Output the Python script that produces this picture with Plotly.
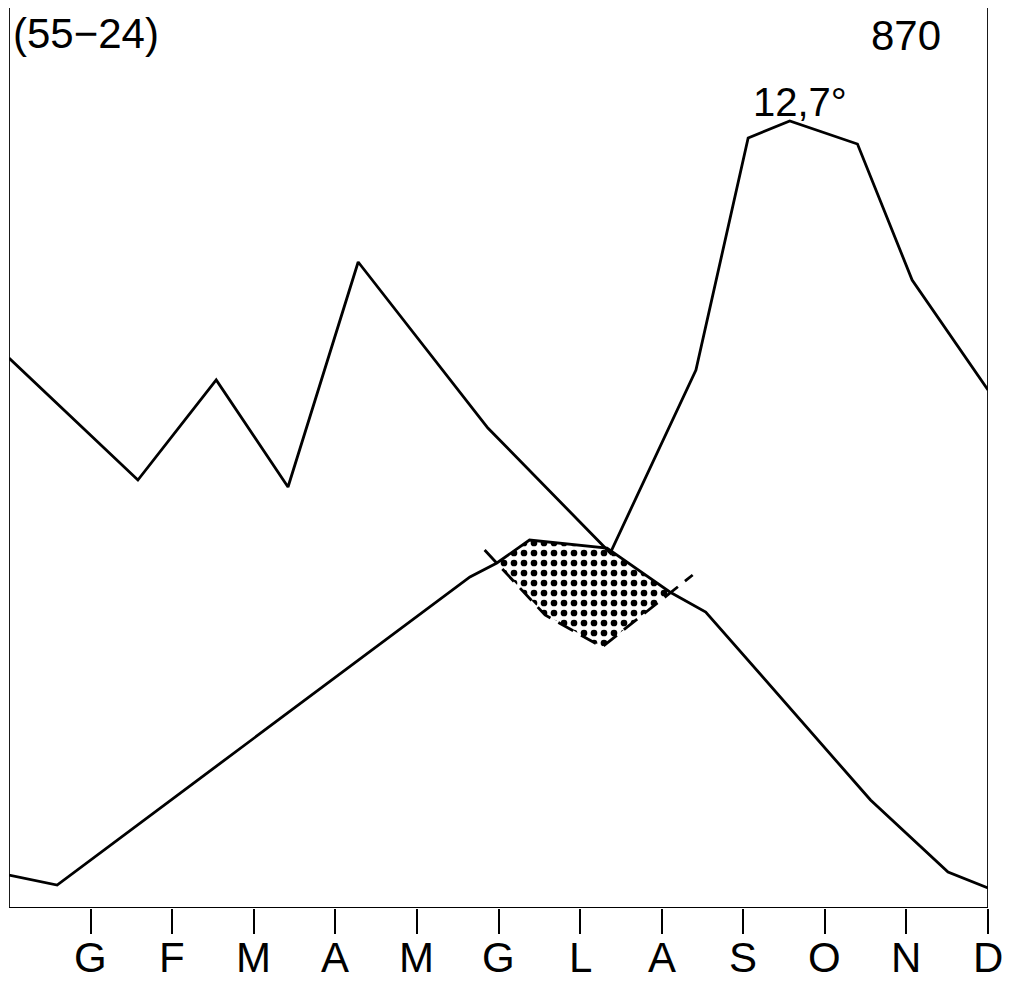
import numpy as np
import plotly.graph_objects as go

# month tick labels (Italian initials)
months = ["G", "F", "M", "A", "M", "G", "L", "A", "S", "O", "N", "D"]
month_pos = list(range(1, 13))

# upper curve (x in month units, y in chart units)
curve_a_x = [0.0, 1.58, 2.54, 3.42, 4.28, 5.87, 7.37, 8.42, 9.06, 9.57, 10.40, 11.07, 12.0]
curve_a_y = [55.0, 42.8, 52.8, 42.1, 64.6, 48.0, 35.5, 53.8, 77.0, 78.7, 76.4, 62.8, 51.8]

# lower curve
curve_b_x = [0.0, 0.59, 5.65, 5.98, 6.38, 7.33, 8.10, 8.54, 10.56, 11.51, 12.0]
curve_b_y = [3.3, 2.3, 33.1, 34.5, 36.8, 36.0, 31.6, 29.6, 10.8, 3.6, 2.0]

# dashed curve (dry period boundary)
dash_x = [5.83, 6.57, 7.27, 8.38]
dash_y = [35.8, 29.3, 26.1, 33.3]

label_tl = "(55\u221224)"
label_tr = "870"
label_peak = "12,7\u00b0"

Y_TOP = 90.0

# dotted region where curve B is above dashed curve
grid = np.linspace(dash_x[0], dash_x[-1], 2000)
bv = np.interp(grid, curve_b_x, curve_b_y)
dv = np.interp(grid, dash_x, dash_y)
mask = bv >= dv
gx = grid[mask]
poly_x = list(gx) + list(gx[::-1])
poly_y = list(bv[mask]) + list(dv[mask][::-1])

fig = go.Figure()
fig.add_trace(go.Scatter(
    x=poly_x, y=poly_y, mode="lines", fill="toself",
    line=dict(width=0, color="rgba(0,0,0,0)"),
    fillcolor="white",
    fillpattern=dict(shape=".", fgcolor="black", fgopacity=1, bgcolor="white",
                     size=10, solidity=0.35),
    hoverinfo="skip", showlegend=False))
fig.add_trace(go.Scatter(
    x=dash_x, y=dash_y, mode="lines",
    line=dict(color="black", width=2.8, dash="17px,9px"),
    showlegend=False))
fig.add_trace(go.Scatter(
    x=curve_a_x, y=curve_a_y, mode="lines",
    line=dict(color="black", width=2.8), showlegend=False))
fig.add_trace(go.Scatter(
    x=curve_b_x, y=curve_b_y, mode="lines",
    line=dict(color="black", width=2.8), showlegend=False))

# frame lines
fig.add_shape(type="line", x0=0, x1=0, y0=0, y1=Y_TOP, line=dict(color="black", width=1.8))
fig.add_shape(type="line", x0=12, x1=12, y0=0, y1=Y_TOP, line=dict(color="black", width=1.8))
fig.add_shape(type="line", x0=0, x1=12, y0=0, y1=0, line=dict(color="black", width=1.8))

FONT = "Liberation Sans, Arial, sans-serif"
font_main = dict(family=FONT, size=42, color="black")
fig.add_annotation(x=0.03, y=87.5, xref="x", yref="y", text=label_tl, showarrow=False,
                   xanchor="left", yanchor="middle", font=font_main)
fig.add_annotation(x=11.45, y=87.3, xref="x", yref="y", text=label_tr, showarrow=False,
                   xanchor="right", yanchor="middle", font=font_main)
fig.add_annotation(x=9.7, y=80.6, xref="x", yref="y", text=label_peak, showarrow=False,
                   xanchor="center", yanchor="middle", font=dict(family=FONT, size=40, color="black"))

# month labels under the ticks
for pos, lab in zip(month_pos, months):
    fig.add_annotation(x=pos, y=0, xref="x", yref="y", text=lab, showarrow=False,
                       xanchor="center", yanchor="middle", yshift=-49, font=font_main)

fig.update_xaxes(range=[0, 12], showgrid=False, zeroline=False, showline=False,
                 automargin=False, showticklabels=False,
                 tickmode="array", tickvals=month_pos,
                 ticks="outside", ticklen=25, tickwidth=1.5, tickcolor="black")
fig.update_yaxes(range=[0, Y_TOP], showgrid=False, zeroline=False, showline=False,
                 automargin=False, showticklabels=False, ticks="")

# page body has an 8px margin; size the figure so the plot area lands where the reference has it
fig.update_layout(width=1005, height=974, margin=dict(l=1, r=25, t=0, b=74),
                  plot_bgcolor="white", paper_bgcolor="white")

fig.write_html("out.html")
